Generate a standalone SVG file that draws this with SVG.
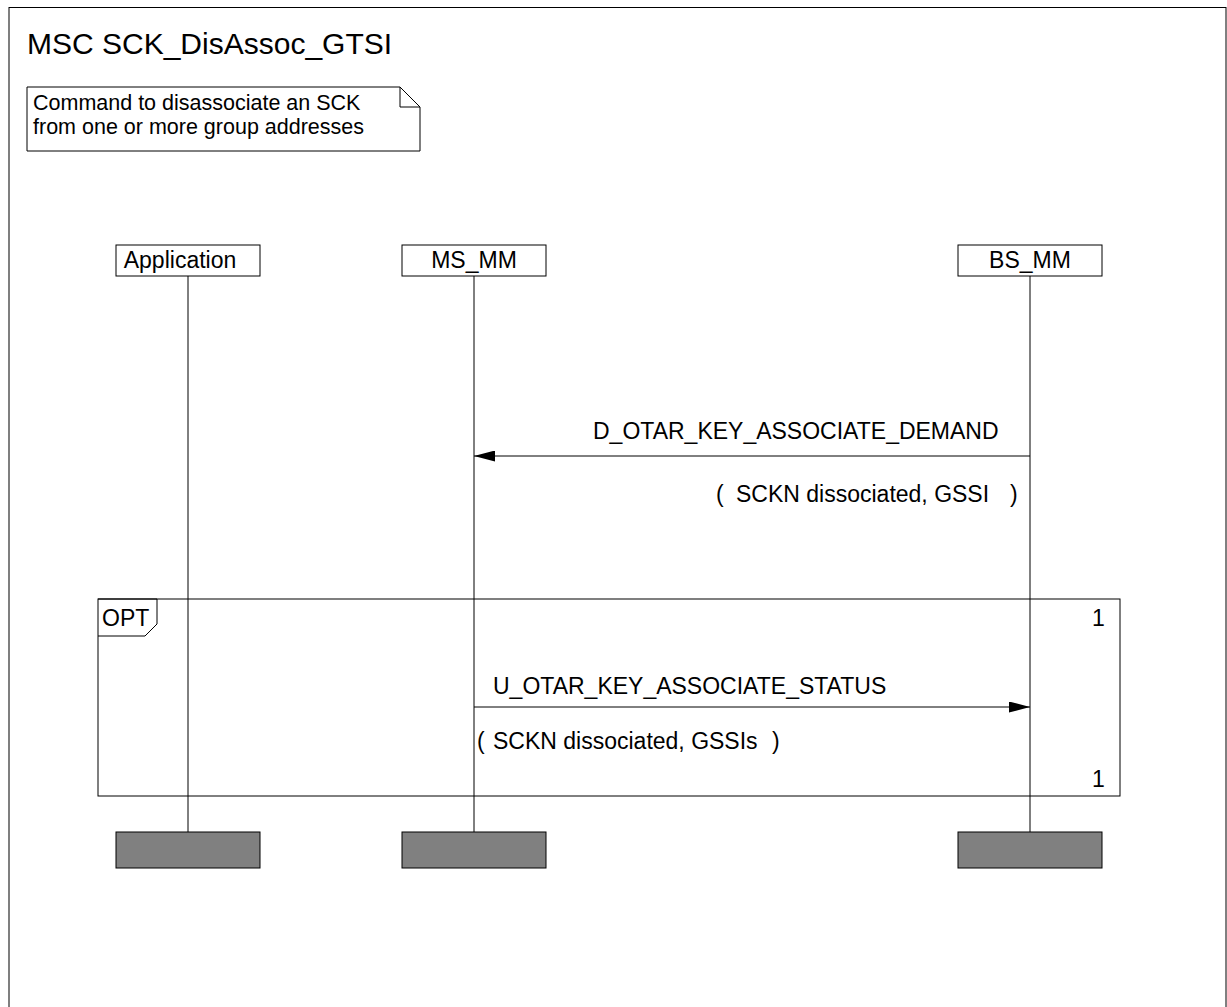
<svg xmlns="http://www.w3.org/2000/svg" width="1227" height="1007" viewBox="0 0 1227 1007">
<style>
text{font-family:"Liberation Sans",Arial,sans-serif;fill:#000}
.t{font-size:23px}
.n{font-size:21.5px}
.title{font-size:30px}
.box{fill:#fff;stroke:#000;stroke-width:1}
.life{stroke:#000;stroke-width:1}
.end{fill:#808080;stroke:#000;stroke-width:1}
.msg{stroke:#000;stroke-width:1;fill:none}
</style>
<defs>
<marker id="ah" markerWidth="21" markerHeight="11" refX="21" refY="5.5" orient="auto" markerUnits="userSpaceOnUse">
<path d="M0,0 L21,5.5 L0,11 Z" fill="#000"/>
</marker>
</defs>
<rect width="1227" height="1007" fill="#fff"/>
<rect x="9" y="7.5" width="1217" height="1010" fill="none" stroke="#000" stroke-width="1"/>
<text class="title" x="27" y="54">MSC SCK_DisAssoc_GTSI</text>
<g id="note">
<path d="M27,87 L400,87 L420,107 L420,151 L27,151 Z" class="box"/>
<path d="M400,87 L400,107 L420,107" fill="none" stroke="#000"/>
<text class="n" x="33" y="110">Command to disassociate an SCK</text>
<text class="n" x="33" y="134">from one or more group addresses</text>
</g>
<g id="opt">
<rect x="98" y="599" width="1022" height="197" fill="none" stroke="#000"/>
<path d="M98,599 L157,599 L157,624 L145,636 L98,636" fill="none" stroke="#000"/>
<text class="t" x="102" y="626">OPT</text>
<text class="t" x="1092" y="626">1</text>
<text class="t" x="1092" y="787">1</text>
</g>
<g id="application">
<rect x="116" y="245" width="144" height="31" class="box"/>
<text class="t" x="180" y="268" text-anchor="middle">Application</text>
<line x1="188" y1="276" x2="188" y2="832" class="life"/>
<rect x="116" y="832" width="144" height="36" class="end"/>
</g>
<g id="ms_mm">
<rect x="402" y="245" width="144" height="31" class="box"/>
<text class="t" x="474" y="268" text-anchor="middle">MS_MM</text>
<line x1="474" y1="276" x2="474" y2="832" class="life"/>
<rect x="402" y="832" width="144" height="36" class="end"/>
</g>
<g id="bs_mm">
<rect x="958" y="245" width="144" height="31" class="box"/>
<text class="t" x="1030" y="268" text-anchor="middle">BS_MM</text>
<line x1="1030" y1="276" x2="1030" y2="832" class="life"/>
<rect x="958" y="832" width="144" height="36" class="end"/>
</g>
<g id="connectors">
<line x1="1030" y1="456" x2="474" y2="456" class="msg" marker-end="url(#ah)"/>
<text class="t" x="593" y="439">D_OTAR_KEY_ASSOCIATE_DEMAND</text>
<text class="t" x="716" y="502">(</text>
<text class="t" x="736" y="502">SCKN dissociated, GSSI</text>
<text class="t" x="1010" y="502">)</text>
<line x1="474" y1="707" x2="1030" y2="707" class="msg" marker-end="url(#ah)"/>
<text class="t" x="493" y="694">U_OTAR_KEY_ASSOCIATE_STATUS</text>
<text class="t" x="477" y="749">(</text>
<text class="t" x="493" y="749">SCKN dissociated, GSSIs</text>
<text class="t" x="772" y="749">)</text>
</g>
</svg>
